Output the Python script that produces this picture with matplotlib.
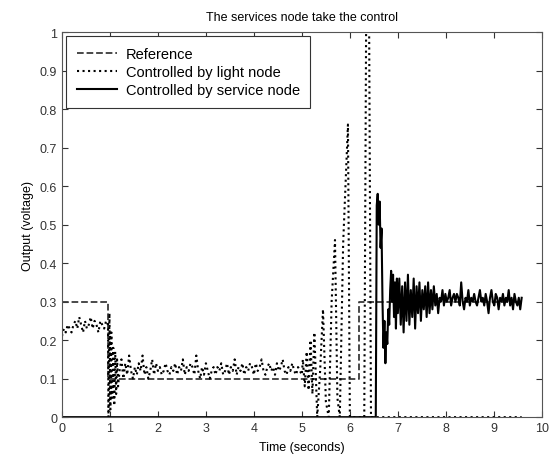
import matplotlib
matplotlib.use("Agg")
import matplotlib.pyplot as plt
import numpy as np

plt.rcParams['font.family'] = ['Liberation Sans', 'DejaVu Sans']

# Reference signal (step changes)
ref_t = [0.0, 0.97, 6.19, 9.58]
ref_v = [0.3, 0.1, 0.3, 0.3]

# Light node: first stretch (0 - 0.96 s, every 0.04 s)
light_a_v = [0.21, 0.23, 0.22, 0.24, 0.23, 0.22, 0.24, 0.25, 0.23, 0.26,
             0.24, 0.22, 0.25, 0.23, 0.24, 0.26, 0.23, 0.25, 0.24, 0.22,
             0.25, 0.24, 0.23, 0.25, 0.24]
# transient after the reference drop
light_b_t = [0.97, 0.99, 1.01, 1.03, 1.05, 1.07, 1.09, 1.11, 1.13, 1.15, 1.17]
light_b_v = [0.00, 0.27, 0.02, 0.22, 0.05, 0.18, 0.03, 0.17, 0.06, 0.15, 0.08]
# steady part 1.2 - 5.0 s, every 0.04 s
light_c_v = [0.12, 0.15, 0.10, 0.14, 0.11, 0.16, 0.12, 0.10, 0.13, 0.11,
             0.14, 0.12, 0.16, 0.11, 0.13, 0.10, 0.12, 0.15, 0.11, 0.14,
             0.12, 0.13, 0.11, 0.12, 0.14, 0.12, 0.11, 0.13, 0.12, 0.14,
             0.11, 0.13, 0.12, 0.15, 0.11, 0.13, 0.12, 0.14, 0.13, 0.11,
             0.16, 0.12, 0.10, 0.13, 0.11, 0.14, 0.12, 0.10, 0.12, 0.13,
             0.11, 0.13, 0.12, 0.14, 0.11, 0.12, 0.14, 0.11, 0.13, 0.12,
             0.15, 0.11, 0.13, 0.12, 0.14, 0.11, 0.13, 0.12, 0.14, 0.13,
             0.11, 0.14, 0.12, 0.13, 0.15, 0.12, 0.11, 0.13, 0.14, 0.12,
             0.13, 0.11, 0.14, 0.12, 0.13, 0.15, 0.12, 0.11, 0.13, 0.12,
             0.14, 0.12, 0.11, 0.13, 0.12, 0.11]
# growing oscillation before the service node takes over
light_d_t = [5.02, 5.06, 5.10, 5.14, 5.18, 5.22, 5.26, 5.32, 5.38, 5.44,
             5.50, 5.56, 5.62, 5.69, 5.74, 5.79, 5.86, 5.96, 6.00, 6.05,
             6.30, 6.34, 6.40, 6.44, 6.54, 9.58]
light_d_v = [0.15, 0.08, 0.17, 0.07, 0.20, 0.06, 0.22, 0.00, 0.12, 0.28,
             0.04, 0.00, 0.30, 0.46, 0.05, 0.00, 0.45, 0.76, 0.00, 0.00,
             0.00, 1.05, 1.05, 0.00, 0.00, 0.00]

# Service node
serv_a_t = [0.0, 6.54, 6.56, 6.58, 6.60, 6.62, 6.64, 6.66, 6.68, 6.70,
            6.72, 6.74, 6.76, 6.78, 6.80, 6.82, 6.84, 6.86, 6.88, 6.90,
            6.92, 6.94, 6.96, 6.98]
serv_a_v = [0.0, 0.0, 0.55, 0.58, 0.50, 0.56, 0.44, 0.49, 0.30, 0.18,
            0.25, 0.14, 0.22, 0.19, 0.28, 0.24, 0.33, 0.38, 0.30, 0.37,
            0.26, 0.35, 0.23, 0.36]
# 7.0 - 9.58 s, every 0.03 s
serv_b_v = [0.27, 0.36, 0.24, 0.34, 0.22, 0.35, 0.25, 0.37, 0.24, 0.33,
            0.26, 0.36, 0.23, 0.34, 0.27, 0.35, 0.25, 0.33, 0.28, 0.34,
            0.26, 0.35, 0.27, 0.33, 0.28, 0.34, 0.29, 0.32, 0.27, 0.31,
            0.30, 0.33, 0.29, 0.32, 0.30, 0.31, 0.33, 0.29, 0.31, 0.32,
            0.30, 0.32, 0.31, 0.29, 0.35, 0.30, 0.28, 0.31, 0.30, 0.33,
            0.29, 0.31, 0.30, 0.32, 0.30, 0.29, 0.31, 0.33, 0.30, 0.31,
            0.29, 0.32, 0.30, 0.27, 0.31, 0.33, 0.30, 0.29, 0.32, 0.31,
            0.28, 0.31, 0.30, 0.32, 0.29, 0.31, 0.30, 0.33, 0.29, 0.31,
            0.28, 0.32, 0.30, 0.29, 0.31, 0.28, 0.31]

light_t = np.concatenate([np.linspace(0.0, 0.96, len(light_a_v)), light_b_t,
                          np.linspace(1.2, 5.0, len(light_c_v)), light_d_t])
light_v = np.concatenate([light_a_v, light_b_v, light_c_v, light_d_v])
serv_t = np.concatenate([serv_a_t, np.linspace(7.0, 9.58, len(serv_b_v))])
serv_v = np.concatenate([serv_a_v, serv_b_v])

fig = plt.figure(figsize=(5.58, 4.60), dpi=100)
ax = fig.add_axes([0.111, 0.091, 0.860, 0.837])

ax.plot(ref_t, ref_v, drawstyle='steps-post', linestyle='--', color='#3a3a3a',
        linewidth=1.3, label='Reference')
ax.plot(light_t, light_v, linestyle=':', color='black', linewidth=1.5,
        label='Controlled by light node')
ax.plot(serv_t, serv_v, linestyle='-', color='black', linewidth=1.5,
        label='Controlled by service node')

ax.set_xlim(0, 10)
ax.set_ylim(0, 1)
ax.set_xticks(range(0, 11))
ax.set_yticks(np.arange(0, 1.01, 0.1))
ax.set_yticklabels(['0', '0.1', '0.2', '0.3', '0.4', '0.5', '0.6', '0.7', '0.8', '0.9', '1'])
ax.tick_params(direction='in', top=True, right=True, labelsize=9, length=4,
               colors='#333333')
for s in ax.spines.values():
    s.set_color('#555555')

ax.set_xlabel('Time (seconds)', fontsize=9, labelpad=5)
ax.set_ylabel('Output (voltage)', fontsize=9, labelpad=4)
ax.set_title('The services node take the control', fontsize=9, pad=9)

leg = ax.legend(loc='upper left', fontsize=10.5, handlelength=2.8,
                fancybox=False, framealpha=1, edgecolor='#333333',
                borderaxespad=0.3, labelspacing=0.3, borderpad=0.7,
                handletextpad=0.6)
leg.get_frame().set_linewidth(0.8)

plt.savefig('out.png', dpi=100)
